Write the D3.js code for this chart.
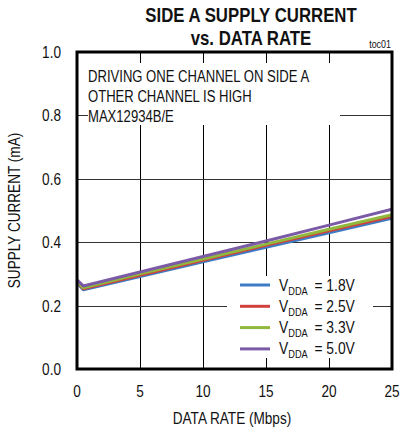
<!DOCTYPE html>
<html>
<head>
<meta charset="utf-8">
<script src="https://cdn.jsdelivr.net/npm/d3@7"></script>
<style>
  body { margin: 0; background: #fff; }
  text { font-family: "Liberation Sans", Arial, sans-serif; fill: #111; }
</style>
</head>
<body>
<div id="chart"></div>
<script>
// data rate (Mbps)
const rates = [0, 0.5, 5, 10, 15, 20, 25];
// supply current (mA) per VDDA
const vdda18 = [0.272, 0.250, 0.292, 0.338, 0.384, 0.430, 0.476];
const vdda25 = [0.275, 0.253, 0.296, 0.343, 0.390, 0.436, 0.481];
const vdda33 = [0.277, 0.256, 0.300, 0.347, 0.394, 0.441, 0.487];
const vdda50 = [0.281, 0.262, 0.306, 0.355, 0.404, 0.454, 0.504];
const seriesNames = ["1.8V", "2.5V", "3.3V", "5.0V"];
const xTicks = [0, 5, 10, 15, 20, 25];
const yTicks = [0, 0.2, 0.4, 0.6, 0.8, 1.0];
const noteLines = ["DRIVING ONE CHANNEL ON SIDE A", "OTHER CHANNEL IS HIGH", "MAX12934B/E"];

const colors = ["#3d7cc4", "#d0413d", "#90b83c", "#7b5aa6"];
const series = [vdda18, vdda25, vdda33, vdda50];

const W = 400, H = 432;
const margin = { top: 52, right: 8, bottom: 63, left: 77 };
const NARROW = 0.84; // no narrow font installed, squeeze horizontally

const svg = d3.select("#chart").append("svg")
  .attr("width", W)
  .attr("height", H);

const x = d3.scaleLinear().domain([0, 25]).range([margin.left, W - margin.right]);
const y = d3.scaleLinear().domain([0, 1]).range([H - margin.bottom, margin.top]);

// place text at (px, py) squeezed like a condensed face
function narrow(sel, px, py, k) {
  return sel.attr("transform", (d, i) => {
    const a = typeof px === "function" ? px(d, i) : px;
    const b = typeof py === "function" ? py(d, i) : py;
    return "translate(" + a + "," + b + ") scale(" + (k || NARROW) + ",1)";
  });
}

// grid
svg.append("g")
  .selectAll("line")
  .data(xTicks.slice(1, -1))
  .enter().append("line")
  .attr("x1", d => Math.round(x(d)) + 0.5)
  .attr("x2", d => Math.round(x(d)) + 0.5)
  .attr("y1", y(1))
  .attr("y2", y(0))
  .attr("stroke", "#000")
  .attr("stroke-width", 1);

svg.append("g")
  .selectAll("line")
  .data(yTicks.slice(1, -1))
  .enter().append("line")
  .attr("x1", x(0))
  .attr("x2", x(25))
  .attr("y1", d => Math.round(y(d)) + 0.5)
  .attr("y2", d => Math.round(y(d)) + 0.5)
  .attr("stroke", "#333")
  .attr("stroke-width", 1);

// note box
svg.append("rect")
  .attr("x", 88).attr("y", 63)
  .attr("width", 252).attr("height", 62)
  .attr("fill", "#fff");

svg.append("g")
  .selectAll("text")
  .data(noteLines)
  .enter().append("text")
  .call(narrow, 88, (d, i) => 82 + i * 20, 0.77)
  .attr("font-size", 17)
  .text(d => d);

// curves
svg.append("clipPath").attr("id", "plot")
  .append("rect")
  .attr("x", x(0)).attr("y", y(1))
  .attr("width", x(25) - x(0)).attr("height", y(0) - y(1));

const line = d3.line()
  .x((d, i) => x(rates[i]))
  .y(d => y(d));

svg.append("g")
  .attr("clip-path", "url(#plot)")
  .selectAll("path")
  .data(series)
  .enter().append("path")
  .attr("d", line)
  .attr("fill", "none")
  .attr("stroke", (d, i) => colors[i])
  .attr("stroke-width", 3)
  .attr("stroke-linejoin", "round");

// legend
const legend = svg.append("g");
legend.append("rect")
  .attr("x", 227).attr("y", 276)
  .attr("width", 146).attr("height", 82)
  .attr("fill", "#fff");

const item = legend.selectAll("g")
  .data(seriesNames)
  .enter().append("g")
  .attr("transform", (d, i) => "translate(0," + (285 + i * 21.3) + ")");

item.append("line")
  .attr("x1", 240).attr("x2", 270)
  .attr("stroke", (d, i) => colors[i])
  .attr("stroke-width", 3);

const lt = item.append("text")
  .call(narrow, 279, 5.5)
  .attr("font-size", 16.5);
lt.append("tspan").text("V");
lt.append("tspan").attr("font-size", 11).attr("dy", 4).text("DDA");
lt.append("tspan").attr("dy", -4).attr("dx", 8).text(d => "= " + d);

// frame
svg.append("rect")
  .attr("x", x(0)).attr("y", y(1))
  .attr("width", x(25) - x(0)).attr("height", y(0) - y(1))
  .attr("fill", "none")
  .attr("stroke", "#000")
  .attr("stroke-width", 3);

// tick labels
svg.append("g")
  .selectAll("text")
  .data(yTicks)
  .enter().append("text")
  .call(narrow, 61, d => y(d) + 6, 0.85)
  .attr("text-anchor", "end")
  .attr("font-size", 16)
  .text(d => d.toFixed(1));

svg.append("g")
  .selectAll("text")
  .data(xTicks)
  .enter().append("text")
  .call(narrow, d => x(d), 397, 0.85)
  .attr("text-anchor", "middle")
  .attr("font-size", 16)
  .text(d => d);

// titles
svg.append("text")
  .call(narrow, 251, 22)
  .attr("text-anchor", "middle")
  .attr("font-size", 20).attr("font-weight", "bold")
  .text("SIDE A SUPPLY CURRENT");
svg.append("text")
  .call(narrow, 251, 45)
  .attr("text-anchor", "middle")
  .attr("font-size", 20).attr("font-weight", "bold")
  .text("vs. DATA RATE");
svg.append("text")
  .call(narrow, 391, 48, 0.85)
  .attr("text-anchor", "end")
  .attr("font-size", 10.5)
  .text("toc01");

svg.append("text")
  .call(narrow, 232, 424, 0.85)
  .attr("text-anchor", "middle")
  .attr("font-size", 16)
  .text("DATA RATE (Mbps)");

svg.append("text")
  .attr("transform", "translate(20," + y(0.5) + ") rotate(-90) scale(0.85,1)")
  .attr("text-anchor", "middle")
  .attr("font-size", 16)
  .text("SUPPLY CURRENT (mA)");
</script>
</body>
</html>
